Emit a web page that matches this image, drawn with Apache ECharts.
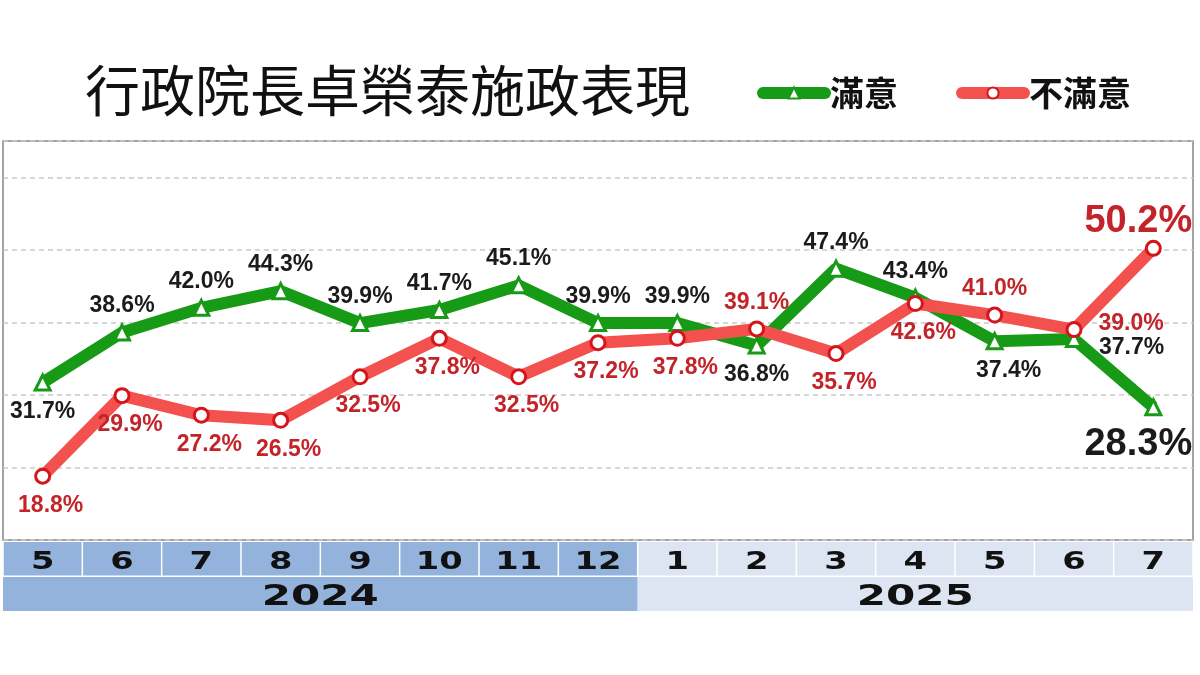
<!DOCTYPE html>
<html><head><meta charset="utf-8">
<script src="https://cdn.jsdelivr.net/npm/echarts@6/dist/echarts.min.js"></script>
<style>html,body{margin:0;padding:0;background:#fff}#c{width:1200px;height:675px}</style>
</head><body><div id="c"></div>
<script>
// ---- data ----
const months = ['5','6','7','8','9','10','11','12','1','2','3','4','5','6','7'];
const years = ['2024','2025'];
const monthYearIndex = [0,0,0,0,0,0,0,0,1,1,1,1,1,1,1];
const satisfied = [31.7,38.6,42.0,44.3,39.9,41.7,45.1,39.9,39.9,36.8,47.4,43.4,37.4,37.7,28.3];
const dissatisfied = [18.8,29.9,27.2,26.5,32.5,37.8,32.5,37.2,37.8,39.1,35.7,42.6,41.0,39.0,50.2];
const seriesNames = ['滿意','不滿意'];
const titleText = '行政院長卓榮泰施政表現';

// ---- label placement (style) ----
const satLabelPos = ['bottom','top','top','top','top','top','top','top','top','bottom','top','top','bottom','right','bottom'];
const disLabelPos = ['bottom','bottom','bottom','bottom','bottom','bottom','bottom','bottom','bottom','top','bottom','bottom','top','right','top'];

const GREEN = '#179b17', RED = '#f2514e', DARKRED = '#c2242a';
const C2024 = '#94b3dc', C2025 = '#dce5f1';
const labelFont = 'Liberation Sans';
const last = satisfied.length - 1;

function labelFor(pos, i, isRed) {
  const l = { position: pos, distance: pos === 'bottom' ? 9 : 6 };
  if (isRed && pos === 'bottom') l.offset = [8, 0];
  if (!isRed && pos === 'bottom' && i > 10) l.offset = [14, 0];
  if (pos === 'right') { l.distance = 16; l.offset = [0, isRed ? -6 : 9]; }
  if (i === last) {
    l.fontSize = 38; l.distance = 4; l.offset = [-15, 5];
  }
  return l;
}

const yearSpans = years.map((y, k) => {
  const idx = monthYearIndex.map((v, i) => v === k ? i : -1).filter(i => i >= 0);
  return [idx[0], idx[idx.length - 1], k];
});

const chart = echarts.init(document.getElementById('c'), null, { renderer: 'canvas' });
chart.setOption({
  animation: false,
  backgroundColor: '#ffffff',
  title: {
    text: titleText, left: 80, top: 58,
    textStyle: { fontSize: 55, fontFamily: 'Noto Sans CJK TC', fontWeight: 'normal', color: '#111' }
  },
  legend: {
    data: seriesNames, left: 752, top: 71, itemWidth: 62, itemHeight: 14, itemGap: 58,
    lineStyle: { width: 12, cap: 'round' },
    textStyle: { fontSize: 34, fontFamily: 'Noto Sans CJK TC', fontWeight: 'bold', color: '#111' }
  },
  grid: [
    { left: 3, top: 141, width: 1190, height: 399, show: true, borderColor: '#a3a3a3', borderWidth: 2, backgroundColor: '#fff', containLabel: false },
    { left: 3, top: 542, width: 1190, height: 70, containLabel: false }
  ],
  xAxis: [
    { type: 'category', gridIndex: 0, data: months, boundaryGap: true,
      axisLine: { show: false }, axisTick: { show: false }, axisLabel: { show: false }, splitLine: { show: false } },
    { type: 'category', gridIndex: 1, data: months, boundaryGap: true, show: false }
  ],
  yAxis: [
    { type: 'value', gridIndex: 0, min: 10, max: 65, interval: 10,
      axisLine: { show: false }, axisTick: { show: false }, axisLabel: { show: false },
      splitLine: { show: true, lineStyle: { color: '#c9c9c9', type: [5, 4], width: 1.5 } } },
    { type: 'value', gridIndex: 1, min: 0, max: 2, inverse: true, show: false }
  ],
  series: [
    {
      name: seriesNames[0], type: 'line', xAxisIndex: 0, yAxisIndex: 0,
      data: satisfied.map((v, i) => ({ value: v, label: labelFor(satLabelPos[i], i, false) })),
      lineStyle: { color: GREEN, width: 12 },
      itemStyle: { color: '#fff', borderColor: GREEN, borderWidth: 3 },
      symbol: 'triangle', symbolSize: 15, showAllSymbol: true,
      label: { show: true, formatter: p => p.value.toFixed(1) + '%', color: '#1b1b1b',
        fontFamily: labelFont, fontWeight: 'bold', fontSize: 23 },
      z: 3
    },
    {
      name: seriesNames[1], type: 'line', xAxisIndex: 0, yAxisIndex: 0,
      data: dissatisfied.map((v, i) => ({ value: v, label: labelFor(disLabelPos[i], i, true) })),
      lineStyle: { color: RED, width: 12 },
      itemStyle: { color: '#fff', borderColor: '#d4161c', borderWidth: 3 },
      symbol: 'circle', symbolSize: 14, showAllSymbol: true,
      label: { show: true, formatter: p => p.value.toFixed(1) + '%', color: DARKRED,
        fontFamily: labelFont, fontWeight: 'bold', fontSize: 23 },
      z: 4
    },
    {
      name: 'monthCells', type: 'custom', xAxisIndex: 1, yAxisIndex: 1, silent: true,
      data: months.map((m, i) => [i, 0, monthYearIndex[i]]),
      encode: { x: 0, y: 1 },
      renderItem: (params, api) => {
        const i = api.value(0), yr = api.value(2);
        const p = api.coord([i, 0]);
        const s = api.size([1, 1]);
        return { type: 'group', children: [
          { type: 'rect', shape: { x: p[0] - s[0] / 2 + 0.75, y: p[1], width: s[0] - 1.5, height: s[1] - 1.5 },
            style: { fill: yr === 0 ? C2024 : C2025 } },
          { type: 'text', x: p[0], y: p[1] + s[1] / 2 + 3, scaleX: 1.35,
            style: { text: months[i], fill: '#111', font: 'bold 25px "DejaVu Sans"',
              align: 'center', verticalAlign: 'middle', textAlign: 'center', textVerticalAlign: 'middle' } }
        ] };
      }
    },
    {
      name: 'yearCells', type: 'custom', xAxisIndex: 1, yAxisIndex: 1, silent: true,
      data: yearSpans,
      encode: { x: [0, 1] },
      renderItem: (params, api) => {
        const a = api.value(0), b = api.value(1), k = api.value(2);
        const pa = api.coord([a, 1]), pb = api.coord([b, 1]);
        const s = api.size([1, 1]);
        const x0 = pa[0] - s[0] / 2, x1 = pb[0] + s[0] / 2;
        return { type: 'group', children: [
          { type: 'rect', shape: { x: x0, y: pa[1], width: x1 - x0, height: s[1] - 1 },
            style: { fill: k === 0 ? C2024 : C2025 } },
          { type: 'text', x: (x0 + x1) / 2, y: pa[1] + s[1] / 2 + 3, scaleX: 1.45,
            style: { text: years[k], fill: '#111', font: 'bold 29px "DejaVu Sans"',
              align: 'center', verticalAlign: 'middle', textAlign: 'center', textVerticalAlign: 'middle' } }
        ] };
      }
    }
  ]
});
</script>
</body></html>
